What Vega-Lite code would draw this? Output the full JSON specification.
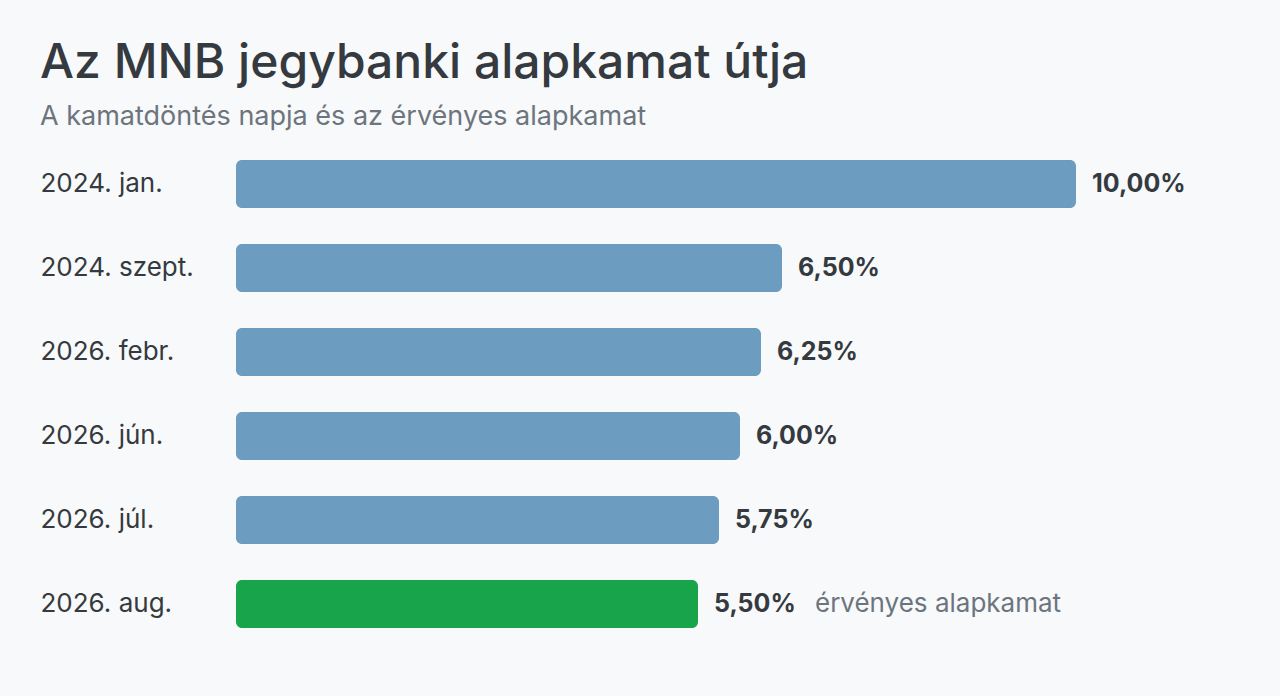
{
  "$schema": "https://vega.github.io/schema/vega-lite/v6.json",
  "width": 840,
  "height": 504,
  "autosize": {"type": "none"},
  "padding": {"left": 236, "top": 142, "right": 204, "bottom": 50},
  "background": "#f8f9fa",
  "config": {
    "view": {"stroke": null},
    "font": "Inter",
    "locale": {"number": {"decimal": ",", "thousands": " ", "grouping": [3], "currency": ["", " Ft"]}}
  },
  "title": {
    "text": "Az MNB jegybanki alapkamat útja",
    "subtitle": "A kamatdöntés napja és az érvényes alapkamat",
    "anchor": "start",
    "frame": "bounds",
    "fontSize": 48,
    "fontWeight": 500,
    "color": "#343a40",
    "subtitleFontSize": 27,
    "subtitleFontWeight": 400,
    "subtitleColor": "#6c757d",
    "subtitlePadding": 16,
    "offset": 12
  },
  "data": {
    "values": [
      {"date": "2024. jan.", "rate": 0.10, "current": false},
      {"date": "2024. szept.", "rate": 0.065, "current": false},
      {"date": "2026. febr.", "rate": 0.0625, "current": false},
      {"date": "2026. jún.", "rate": 0.06, "current": false},
      {"date": "2026. júl.", "rate": 0.0575, "current": false},
      {"date": "2026. aug.", "rate": 0.055, "current": true}
    ]
  },
  "encoding": {
    "y": {
      "field": "date",
      "type": "nominal",
      "sort": null,
      "scale": {"paddingInner": 0.4286, "paddingOuter": 0.2143},
      "axis": {
        "title": null,
        "domain": false,
        "ticks": false,
        "labelAlign": "left",
        "labelPadding": 196,
        "labelFontSize": 26,
        "labelColor": "#343a40",
        "labelFont": "Inter"
      }
    },
    "x": {
      "field": "rate",
      "type": "quantitative",
      "scale": {"domain": [0, 0.1]},
      "axis": null
    }
  },
  "layer": [
    {
      "mark": {"type": "bar", "cornerRadius": 6},
      "encoding": {
        "color": {
          "field": "current",
          "type": "nominal",
          "scale": {"domain": [false, true], "range": ["#6c9cbf", "#18a44a"]},
          "legend": null
        }
      }
    },
    {
      "mark": {"type": "text", "align": "left", "baseline": "middle", "dx": 16, "fontSize": 25, "fontWeight": 700, "color": "#343a40"},
      "encoding": {
        "text": {"field": "rate", "type": "quantitative", "format": ".2%"}
      }
    },
    {
      "transform": [{"filter": "datum.current"}],
      "mark": {"type": "text", "align": "left", "baseline": "middle", "dx": 117, "fontSize": 26, "fontWeight": 400, "color": "#6c757d"},
      "encoding": {
        "text": {"value": "érvényes alapkamat"}
      }
    }
  ]
}
